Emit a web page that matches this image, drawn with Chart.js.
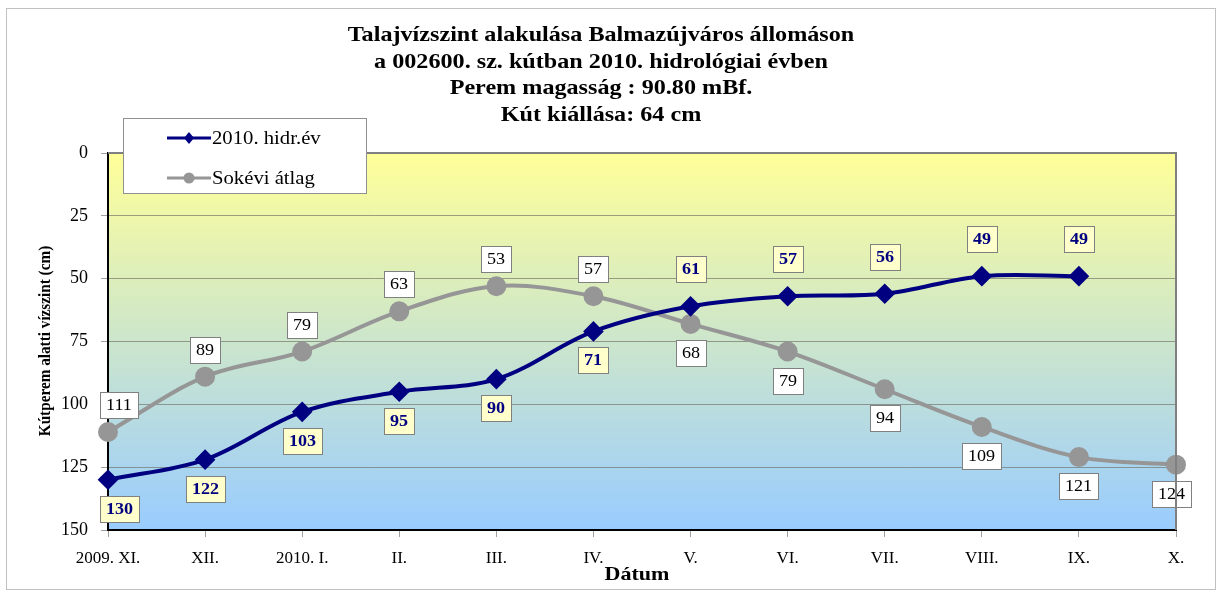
<!DOCTYPE html>
<html lang="hu">
<head>
    <meta charset="UTF-8">
    <title>Talajvízszint alakulása Balmazújváros állomáson</title>
    <script src="https://cdn.jsdelivr.net/npm/chart.js"></script>
    <style>
        html, body { margin: 0; padding: 0; background: #ffffff; }
        #wrap { width: 1220px; height: 592px; }
    </style>
</head>
<body>
    <div id="wrap"><canvas id="gwChart" width="1220" height="592"></canvas></div>

    <script>
        // Data
        const months = ['2009. XI.', 'XII.', '2010. I.', 'II.', 'III.', 'IV.', 'V.', 'VI.', 'VII.', 'VIII.', 'IX.', 'X.'];
        const year2010 = [130, 122, 103, 95, 90, 71, 61, 57, 56, 49, 49, null];
        const longTermAvg = [111, 89, 79, 63, 53, 57, 68, 79, 94, 109, 121, 124];
        const yTicks = [0, 25, 50, 75, 100, 125, 150];

        const titleLines = [
            'Talajvízszint alakulása Balmazújváros állomáson',
            'a 002600. sz. kútban 2010. hidrológiai évben',
            'Perem magasság : 90.80 mBf.',
            'Kút kiállása: 64 cm'
        ];
        const serif = '"Liberation Serif", "Times New Roman", serif';
        const navy = '#000080';
        const grey = '#969696';

        // the original's text runs a little wider than Times, so stretch it sideways
        function wideText(ctx, txt, x, y, sx) {
            ctx.save();
            ctx.translate(x, y);
            ctx.scale(sx, 1);
            ctx.fillText(txt, 0, 0);
            ctx.restore();
        }

        // background gradient, plot frame, outer frame
        const backdrop = {
            id: 'backdrop',
            beforeDraw(chart) {
                const { ctx, chartArea: a } = chart;
                ctx.save();
                ctx.strokeStyle = '#c0c0c0';
                ctx.lineWidth = 1;
                ctx.strokeRect(6.5, 8.5, 1209, 581);
                const g = ctx.createLinearGradient(0, a.top, 0, a.bottom);
                g.addColorStop(0, '#ffff99');
                g.addColorStop(1, '#99ccff');
                ctx.fillStyle = g;
                ctx.fillRect(a.left, a.top, a.right - a.left, a.bottom - a.top);
                ctx.restore();
            },
            afterDraw(chart) {
                const { ctx, chartArea: a } = chart;
                ctx.save();
                ctx.strokeStyle = '#808080';
                ctx.lineWidth = 2;
                ctx.beginPath();
                ctx.moveTo(a.left, a.top);
                ctx.lineTo(a.right, a.top);
                ctx.lineTo(a.right, a.bottom);
                ctx.stroke();
                ctx.restore();
            }
        };

        // titles, axis titles
        const texts = {
            id: 'texts',
            afterDraw(chart) {
                const { ctx, chartArea: a } = chart;
                ctx.save();
                ctx.fillStyle = '#000';
                ctx.textAlign = 'center';
                ctx.textBaseline = 'middle';
                ctx.font = 'bold 21px ' + serif;
                titleLines.forEach((t, i) => wideText(ctx, t, 601, 35.5 + i * 26.7, 1.15));

                ctx.font = 'bold 19px ' + serif;
                wideText(ctx, 'Dátum', 637, 575, 1.16);

                // rotated: squeeze along the text instead
                ctx.translate(45, 341);
                ctx.rotate(-Math.PI / 2);
                ctx.font = 'bold 17.5px ' + serif;
                wideText(ctx, 'Kútperem alatti vízszint (cm)', 0, 0, 0.87);
                ctx.restore();
            }
        };

        // legend box on top of the plot
        const legendBox = {
            id: 'legendBox',
            afterDraw(chart) {
                const ctx = chart.ctx;
                ctx.save();
                ctx.fillStyle = '#ffffff';
                ctx.fillRect(123, 118, 243, 75);
                ctx.strokeStyle = '#909090';
                ctx.lineWidth = 1;
                ctx.strokeRect(123.5, 118.5, 243, 75);
                chart.data.datasets.forEach((ds, i) => {
                    const y = 138 + i * 40;
                    ctx.strokeStyle = ds.borderColor;
                    ctx.lineWidth = 3;
                    ctx.beginPath();
                    ctx.moveTo(167, y);
                    ctx.lineTo(211, y);
                    ctx.stroke();
                    ctx.fillStyle = ds.borderColor;
                    ctx.beginPath();
                    if (ds.pointStyle === 'rectRot') {
                        ctx.moveTo(189, y - 6); ctx.lineTo(194, y); ctx.lineTo(189, y + 6); ctx.lineTo(184, y);
                    } else {
                        ctx.arc(189, y, 5.5, 0, Math.PI * 2);
                    }
                    ctx.fill();
                    ctx.fillStyle = '#000';
                    ctx.font = '18px ' + serif;
                    ctx.textAlign = 'left';
                    ctx.textBaseline = 'middle';
                    wideText(ctx, ds.label, 212, y + 1, 1.15);
                });
                ctx.restore();
            }
        };

        // value labels in boxes, placed on the side away from the other series
        const valueBoxes = {
            id: 'valueBoxes',
            afterDatasetsDraw(chart) {
                const { ctx, chartArea: a } = chart;
                const sets = chart.data.datasets;
                ctx.save();
                ctx.textAlign = 'center';
                ctx.textBaseline = 'middle';
                sets.forEach((ds, di) => {
                    const other = sets[1 - di].data;
                    const meta = chart.getDatasetMeta(di);
                    let below = false;
                    meta.data.forEach((pt, i) => {
                        const v = ds.data[i];
                        if (v === null || v === undefined) return;
                        if (other[i] !== null && other[i] !== undefined) below = v > other[i];
                        ctx.font = (di === 0 ? 'bold ' : '') + '16px ' + serif;
                        const txt = String(v);
                        const w = Math.round(ctx.measureText(txt).width * 1.13 + 12);
                        const h = 26;
                        const lift = di === 0 ? 37 : 27;
                        const cy = Math.round(pt.y + (below ? 29 : -lift));
                        // keep boxes from hanging far past the plot edges
                        let bx = Math.round(pt.x - w / 2);
                        bx = Math.max(bx, a.left - 8);
                        bx = Math.min(bx, a.right + 15 - w);
                        ctx.fillStyle = di === 0 ? '#ffffcc' : '#ffffff';
                        ctx.fillRect(bx, cy - h / 2, w, h);
                        ctx.strokeStyle = '#808080';
                        ctx.lineWidth = 1;
                        ctx.strokeRect(bx + 0.5, cy - h / 2 + 0.5, w, h);
                        ctx.fillStyle = di === 0 ? navy : '#000';
                        wideText(ctx, txt, bx + w / 2, cy + 1, 1.13);
                    });
                });
                ctx.restore();
            }
        };

        new Chart(document.getElementById('gwChart'), {
            type: 'line',
            data: {
                labels: months,
                datasets: [{
                    label: '2010. hidr.év',
                    data: year2010,
                    borderColor: navy,
                    backgroundColor: navy,
                    borderWidth: 4,
                    pointStyle: 'rectRot',
                    pointRadius: 7.5,
                    tension: 0.35,
                    spanGaps: false
                }, {
                    label: 'Sokévi átlag',
                    data: longTermAvg,
                    borderColor: grey,
                    backgroundColor: grey,
                    borderWidth: 4,
                    pointStyle: 'circle',
                    pointRadius: 8,
                    tension: 0.35
                }]
            },
            options: {
                responsive: false,
                animation: false,
                layout: { padding: { left: 0, right: 44, top: 153, bottom: 0 } },
                plugins: {
                    legend: { display: false },
                    title: { display: false },
                    tooltip: { enabled: false }
                },
                scales: {
                    x: {
                        offset: false,
                        afterFit(scale) { scale.height = 62; },
                        grid: { drawOnChartArea: false, tickLength: 7, tickColor: '#a0a0a0' },
                        border: { color: '#000', width: 2 },
                        ticks: {
                            color: '#000',
                            padding: 11,
                            maxRotation: 0,
                            autoSkip: false,
                            font: { family: serif, size: 17 }
                        }
                    },
                    y: {
                        reverse: true,
                        min: yTicks[0],
                        max: yTicks[yTicks.length - 1],
                        afterFit(scale) { scale.width = 108; },
                        afterBuildTicks(scale) { scale.ticks = yTicks.map(v => ({ value: v })); },
                        grid: { color: 'rgba(110,110,100,0.65)', lineWidth: 1, tickLength: 7, tickColor: '#a0a0a0' },
                        border: { color: '#000', width: 2 },
                        ticks: {
                            color: '#000',
                            padding: 13,
                            font: { family: serif, size: 18 }
                        }
                    }
                }
            },
            plugins: [backdrop, valueBoxes, texts, legendBox]
        });
    </script>
</body>
</html>
